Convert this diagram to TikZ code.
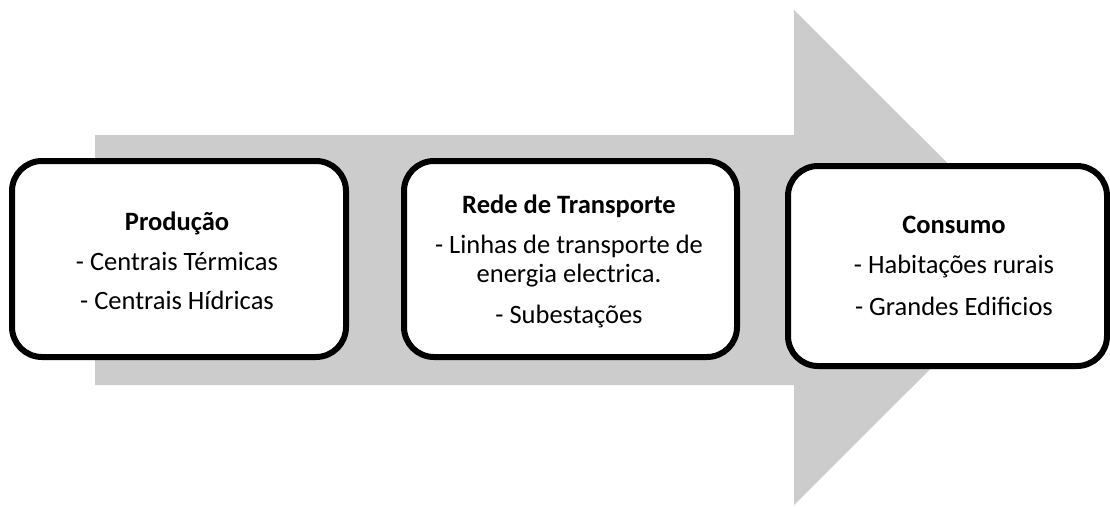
\documentclass[tikz,border=0pt]{standalone}
\usepackage{fontspec}
\setmainfont{Carlito}
\begin{document}
\begin{tikzpicture}[x=1pt,y=-1pt,
  box/.style={draw=black,line width=6pt,fill=white,rounded corners=30pt,minimum width=#1,inner sep=0pt},
  txt/.style={font=\fontsize{26.5}{31}\selectfont,inner sep=0pt,anchor=base},
  ttl/.style={font=\fontsize{26.5}{31}\selectfont\bfseries,inner sep=0pt,anchor=base}]
\useasboundingbox (0,0) rectangle (1110,506);
\fill[fill={rgb,255:red,204;green,204;blue,204}]
  (95,135) -- (794,135) -- (794,10) -- (1042,257.5) -- (794,505) -- (794,385) -- (95,385) -- cycle;
\node[box=334pt,minimum height=196pt] (b1) at (179,259) {};
\node[box=333pt,minimum height=196pt] (b2) at (570.5,259) {};
\node[box=319pt,minimum height=200pt] (b3) at (947.5,266) {};
\node[ttl] (t1) at (177,230) {Produção};
\node[txt] (t1a) at (177,270) {- Centrais Térmicas};
\node[txt] (t1b) at (177,309) {- Centrais Hídricas};
\node[ttl] (t2) at (569,213) {Rede de Transporte};
\node[txt] (t2a) at (569,253) {- Linhas de transporte de};
\node[txt] (t2b) at (569,282) {energia electrica.};
\node[txt] (t2c) at (569,323) {- Subestações};
\node[ttl] (t3) at (954,233) {Consumo};
\node[txt] (t3a) at (954,273) {- Habitações rurais};
\node[txt] (t3b) at (954,315) {- Grandes Edificios};
\end{tikzpicture}
\end{document}
